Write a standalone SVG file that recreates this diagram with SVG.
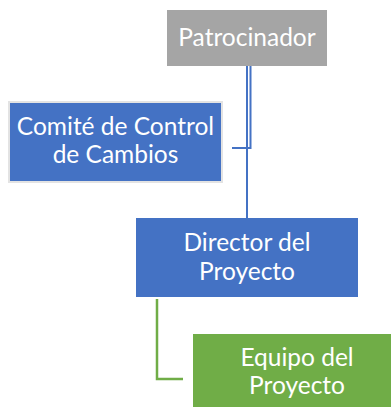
<svg xmlns="http://www.w3.org/2000/svg" width="391" height="407" viewBox="0 0 391 407">
<style>
.t{font-family:"Lato","Open Sans","Liberation Sans",sans-serif;font-size:24.5px;font-weight:400;fill:#ffffff;text-anchor:middle}
.lb{stroke:#4472c4;stroke-width:2;fill:none}
.lg{stroke:#70ad47;stroke-width:2.5;fill:none}
</style>
<rect width="391" height="407" fill="#ffffff"/>
<g id="connectors">
<line class="lb" x1="247" y1="66" x2="247" y2="218"/>
<polyline class="lb" points="250.5,66 250.5,148 232,148"/>
<polyline class="lg" points="157,299 157,379 183,379"/>
</g>
<g id="patrocinador">
<rect x="167" y="10" width="160" height="56" fill="#a5a5a5"/>
<text class="t" x="247" y="46">Patrocinador</text>
</g>
<g id="comite">
<rect x="9" y="102" width="213" height="80" fill="#4472c4" stroke="#e3e3e3" stroke-width="2"/>
<text class="t" x="115.5" y="135">Comité de Control</text>
<text class="t" x="115.5" y="163">de Cambios</text>
</g>
<g id="director">
<rect x="136" y="218" width="222" height="79" fill="#4472c4"/>
<text class="t" x="247" y="251">Director del</text>
<text class="t" x="247" y="280">Proyecto</text>
</g>
<g id="equipo">
<rect x="193" y="334" width="208" height="80" fill="#70ad47"/>
<text class="t" x="297" y="366">Equipo del</text>
<text class="t" x="297" y="394">Proyecto</text>
</g>
</svg>
